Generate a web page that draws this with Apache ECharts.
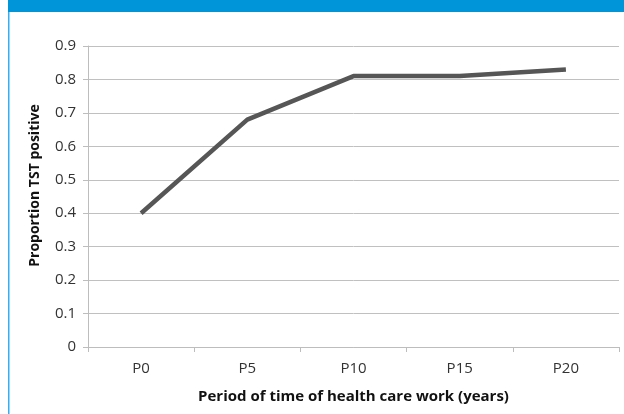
<!DOCTYPE html>
<html>
<head>
<meta charset="utf-8">
<script src="https://cdn.jsdelivr.net/npm/echarts@6/dist/echarts.min.js"></script>
<style>
  html, body { margin: 0; padding: 0; background: #fff; }
  #chart { width: 624px; height: 414px; }
</style>
</head>
<body>
<div id="chart"></div>
<script>
// data
const periods = ['P0', 'P5', 'P10', 'P15', 'P20'];
const tstPositive = [0.40, 0.68, 0.81, 0.81, 0.83];
const headerText = 'proportion by age group and length of health care work (years)';

const chart = echarts.init(document.getElementById('chart'));

const option = {
  animation: false,
  textStyle: { fontFamily: 'Open Sans' },
  graphic: [
    // blue header strip (caption is cropped, only descenders show)
    { type: 'rect', left: 8, top: 0, shape: { width: 616, height: 12 }, style: { fill: '#0095d9' } },
    {
      type: 'text', left: 16, top: -21, z: 10,
      style: { text: headerText, fill: '#ffffff', font: '20px "Open Sans"' }
    },
    // thin border on the left
    { type: 'rect', left: 8, top: 12, shape: { width: 1.5, height: 402 }, style: { fill: '#4aa8dc' } }
  ],
  grid: { left: 88, right: 5, top: 46, bottom: 67 },
  xAxis: {
    type: 'category',
    data: periods,
    boundaryGap: true,
    name: 'Period of time of health care work (years)',
    nameLocation: 'middle',
    nameGap: 42,
    nameTextStyle: { fontWeight: 'bold', fontSize: 15, color: '#111' },
    axisLine: { lineStyle: { color: '#bdbdbd' } },
    axisTick: { show: true, length: 5, lineStyle: { color: '#bdbdbd' } },
    axisLabel: { fontSize: 15, color: '#333', margin: 14 }
  },
  yAxis: {
    type: 'value',
    min: 0,
    max: 0.9,
    interval: 0.1,
    name: 'Proportion TST positive',
    nameLocation: 'middle',
    nameGap: 46,
    nameTextStyle: { fontWeight: 'bold', fontSize: 14, color: '#111', padding: [0, 0, 0, 22] },
    axisLine: { show: true, lineStyle: { color: '#bdbdbd' } },
    axisTick: { show: true, length: 5, lineStyle: { color: '#bdbdbd' } },
    axisLabel: { fontSize: 15, color: '#333', margin: 12, formatter: v => String(Math.round(v * 10) / 10) },
    splitLine: { lineStyle: { color: '#c0c0c0' } }
  },
  series: [
    {
      type: 'line',
      data: tstPositive,
      symbol: 'none',
      lineStyle: { color: '#565656', width: 4.5 }
    }
  ]
};

chart.setOption(option);
</script>
</body>
</html>
